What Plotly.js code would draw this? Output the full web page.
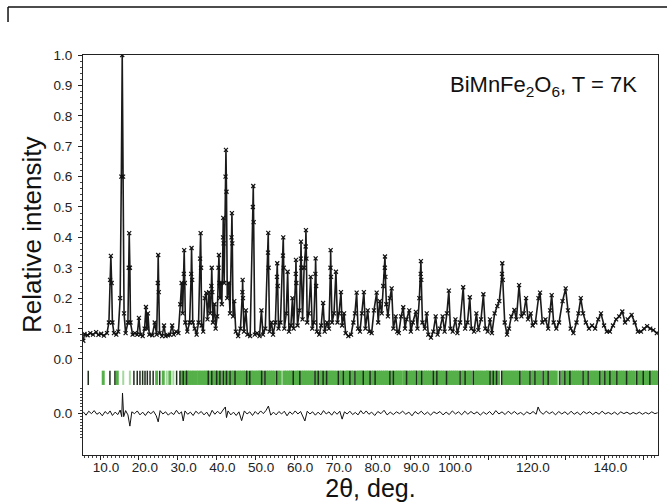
<!DOCTYPE html>
<html>
<head>
<meta charset="utf-8">
<script src="https://cdn.plot.ly/plotly-3.0.1.min.js"></script>
<style>
html,body{margin:0;padding:0;background:#fff;}
#chart{width:667px;height:502px;}
</style>
</head>
<body>
<div id="chart"></div>
<script>
var obsX = [5.7,6.0,6.8,7.5,8.2,9.0,9.6,10.3,11.0,11.8,12.3,12.6,12.8,13.0,13.2,13.6,14.2,14.7,15.2,15.5,15.73,15.95,16.2,16.6,17.2,17.4,17.53,17.7,17.85,18.4,19.0,19.6,20.03,20.4,21.0,21.5,21.84,22.1,22.35,22.7,23.5,24.1,24.6,24.9,25.0,25.15,25.35,26.0,26.5,26.9,27.5,28.0,28.6,29.0,29.6,30.2,30.7,31.04,31.3,31.6,31.7,31.85,32.0,32.5,33.1,33.5,33.6,33.75,33.9,34.4,34.9,35.4,35.8,35.93,36.05,36.2,36.6,37.0,37.4,37.7,38.1,38.4,38.7,38.8,38.95,39.1,39.5,39.8,40.2,40.55,40.65,40.8,40.9,41.2,41.4,41.7,41.76,41.85,42.0,42.35,42.46,42.6,42.8,43.2,43.5,43.9,44.0,44.1,44.3,44.6,45.0,45.6,46.2,46.7,46.76,46.85,47.1,47.6,48.0,48.7,49.4,49.5,49.6,49.9,50.5,51.1,51.6,52.0,52.6,53.3,53.36,53.45,53.7,54.2,54.6,55.2,55.6,55.68,55.8,56.0,56.5,57.15,57.23,57.35,57.5,58.0,58.36,58.7,59.2,59.6,59.9,60.45,60.5,60.6,60.9,61.4,61.75,61.8,61.9,62.2,62.6,63.0,63.07,63.2,63.4,63.8,64.3,64.7,65.1,65.5,65.57,65.7,65.9,66.5,67.0,67.5,67.9,68.5,69.0,69.4,69.44,69.55,69.8,70.3,70.8,71.2,71.6,72.1,72.4,72.9,73.3,74.0,74.7,75.3,75.7,76.14,76.5,77.0,77.5,78.0,78.4,79.0,79.4,80.0,80.6,81.3,81.7,82.1,82.6,83.0,83.4,83.44,83.55,83.8,84.2,84.7,85.16,85.6,86.2,86.6,87.0,87.6,88.15,88.6,89.0,89.7,90.1,90.6,91.4,91.8,92.3,92.65,92.7,92.8,93.1,93.7,94.2,94.6,95.3,95.9,96.5,97.0,97.6,98.3,98.8,99.4,99.9,100.3,100.9,101.6,102.1,102.8,103.6,104.1,104.7,105.3,105.7,106.4,107.0,107.5,108.2,108.8,109.3,109.9,110.5,111.0,111.7,112.4,112.9,113.6,113.67,113.8,114.3,114.9,115.4,116.0,116.8,117.3,118.0,118.6,119.2,119.8,120.3,121.0,121.5,122.2,123.0,123.4,124.0,124.8,125.5,126.0,126.4,126.9,127.6,128.3,129.2,130.0,130.6,131.3,132.0,132.8,133.3,133.9,134.5,135.2,136.0,136.8,137.6,138.4,139.1,139.9,140.6,141.4,142.2,143.0,143.8,144.6,145.3,146.0,147.0,147.8,148.6,149.4,150.2,151.0,151.8,152.6,153.5];
var obsY = [0.06,0.082,0.078,0.085,0.08,0.088,0.079,0.083,0.077,0.085,0.12,0.26,0.339,0.25,0.12,0.085,0.08,0.09,0.2,0.6,1.0,0.6,0.15,0.085,0.12,0.3,0.414,0.3,0.12,0.08,0.085,0.08,0.135,0.08,0.075,0.1,0.171,0.1,0.15,0.08,0.078,0.12,0.08,0.25,0.342,0.22,0.085,0.075,0.11,0.075,0.078,0.08,0.11,0.08,0.09,0.085,0.18,0.25,0.15,0.28,0.358,0.25,0.12,0.09,0.12,0.28,0.365,0.26,0.12,0.1,0.08,0.12,0.33,0.414,0.3,0.11,0.09,0.2,0.217,0.13,0.22,0.15,0.24,0.3,0.22,0.12,0.18,0.1,0.14,0.3,0.342,0.25,0.2,0.25,0.18,0.4,0.464,0.38,0.25,0.6,0.688,0.55,0.2,0.25,0.15,0.4,0.48,0.38,0.14,0.19,0.09,0.075,0.1,0.22,0.26,0.2,0.09,0.16,0.08,0.075,0.5,0.569,0.45,0.08,0.085,0.075,0.16,0.08,0.1,0.35,0.415,0.3,0.09,0.12,0.08,0.12,0.27,0.315,0.24,0.1,0.12,0.34,0.4,0.3,0.1,0.15,0.287,0.09,0.11,0.2,0.1,0.28,0.326,0.25,0.11,0.16,0.33,0.386,0.3,0.13,0.3,0.37,0.424,0.33,0.12,0.15,0.27,0.1,0.12,0.28,0.331,0.24,0.09,0.08,0.11,0.184,0.09,0.12,0.1,0.3,0.358,0.27,0.12,0.15,0.287,0.12,0.15,0.22,0.11,0.15,0.085,0.075,0.08,0.12,0.15,0.218,0.1,0.09,0.15,0.22,0.1,0.16,0.09,0.085,0.16,0.218,0.12,0.19,0.15,0.24,0.3,0.337,0.27,0.18,0.14,0.2,0.232,0.1,0.14,0.09,0.085,0.14,0.17,0.1,0.13,0.16,0.09,0.12,0.155,0.1,0.2,0.28,0.322,0.26,0.12,0.1,0.15,0.08,0.07,0.09,0.14,0.08,0.1,0.14,0.09,0.15,0.225,0.1,0.09,0.13,0.085,0.12,0.236,0.1,0.12,0.203,0.1,0.09,0.15,0.095,0.13,0.213,0.1,0.09,0.13,0.085,0.15,0.174,0.19,0.28,0.315,0.26,0.12,0.08,0.1,0.14,0.161,0.13,0.243,0.14,0.15,0.2,0.13,0.15,0.11,0.12,0.2,0.218,0.12,0.13,0.1,0.16,0.21,0.12,0.1,0.12,0.19,0.232,0.16,0.1,0.085,0.12,0.15,0.2,0.15,0.12,0.1,0.11,0.1,0.13,0.15,0.11,0.09,0.09,0.11,0.13,0.14,0.156,0.12,0.13,0.145,0.12,0.09,0.09,0.1,0.108,0.1,0.095,0.085];

// Difference curve (obs - calc), rows of ten
var diffX = [
  5.7,6.4,7.1,7.8,8.5,9.2,9.9,10.6,11.3,12.0,
  12.6,13.2,13.9,14.6,15.2,15.6,15.8,16.1,16.6,17.2,
  17.7,18.2,18.9,19.6,20.3,21.0,21.7,22.4,23.1,23.8,
  24.5,25.0,25.5,26.2,26.9,27.6,28.3,29.0,29.7,30.4,
  31.0,31.45,31.9,32.6,33.3,34.0,34.7,35.4,36.1,36.8,
  37.5,38.2,38.9,39.6,40.3,41.0,41.7,42.3,42.6,43.0,
  43.7,44.4,45.1,45.8,46.5,47.2,47.9,48.6,49.3,50.0,
  50.7,51.4,52.1,52.8,53.4,54.0,54.7,55.4,56.1,56.8,
  57.5,58.2,58.9,59.6,60.3,61.0,61.7,62.3,62.8,63.4,
  64.1,64.8,65.5,66.2,66.9,67.6,68.3,69.0,69.7,70.4,
  71.1,71.8,72.4,73.0,73.7,74.4,75.1,75.8,76.5,77.2,
  77.9,78.6,79.3,80.0,80.8,81.6,82.4,83.2,84.0,84.8,
  85.6,86.4,87.2,88.0,88.8,89.6,90.4,91.2,92.0,92.8,
  93.6,94.4,95.2,96.0,96.8,97.6,98.4,99.2,100.0,100.8,
  101.6,102.4,103.2,104.0,104.8,105.6,106.4,107.2,108.0,108.8,
  109.6,110.4,111.2,112.0,112.8,113.6,114.4,115.2,116.0,116.8,
  117.6,118.4,119.2,120.0,120.8,121.6,122.4,122.9,123.4,124.2,
  125.0,125.8,126.6,127.4,128.2,129.0,129.8,130.6,131.4,132.2,
  133.0,133.8,134.6,135.4,136.2,137.0,137.8,138.6,139.4,140.2,
  141.0,141.8,142.6,143.4,144.2,145.0,145.8,146.6,147.4,148.2,
  149.0,149.8,150.6,151.4,152.2,153.0,153.7
];
var diffY = [
  0.004,-0.007,0.006,-0.002,0.008,-0.004,0.002,-0.009,0.005,-0.003,
  0.007,-0.008,0.003,-0.005,0.010,-0.012,0.066,-0.012,0.008,-0.006,
  -0.043,0.004,-0.002,0.007,-0.006,0.003,-0.008,0.005,-0.002,0.006,
  -0.009,-0.029,0.008,-0.003,0.004,-0.007,0.002,-0.005,0.009,-0.003,
  0.004,-0.026,0.007,-0.004,0.003,-0.008,0.006,-0.002,0.005,-0.006,
  0.003,-0.011,0.009,-0.004,0.006,-0.003,0.010,0.020,-0.015,0.007,
  -0.006,0.003,-0.008,0.004,-0.025,0.007,-0.003,0.004,-0.008,0.005,
  -0.004,0.007,-0.002,0.009,0.023,-0.007,0.003,-0.006,0.005,-0.003,
  0.006,-0.009,0.004,-0.004,0.007,-0.003,0.005,-0.010,-0.026,0.006,
  -0.003,0.004,-0.007,0.003,-0.006,0.008,-0.003,0.004,-0.007,0.005,
  -0.004,0.006,-0.020,0.004,-0.003,0.006,-0.005,0.002,-0.006,0.008,
  -0.003,0.007,-0.004,0.003,-0.008,0.005,-0.002,0.009,-0.006,0.003,
  -0.005,0.004,-0.002,0.006,-0.004,0.003,-0.009,0.005,-0.003,0.006,
  -0.005,0.003,-0.007,0.004,-0.002,0.005,-0.006,0.003,-0.005,0.007,
  -0.003,0.004,-0.006,0.006,-0.004,0.005,-0.003,0.004,-0.007,0.003,
  -0.004,0.005,-0.006,0.008,-0.003,0.004,-0.005,0.006,-0.003,0.005,
  -0.004,0.002,-0.006,0.004,-0.003,0.005,-0.004,0.020,0.005,-0.004,
  0.006,-0.002,0.004,-0.006,0.005,-0.003,0.004,-0.005,0.006,-0.004,
  0.003,-0.006,0.005,-0.002,0.004,-0.005,0.003,-0.004,0.006,-0.003,
  0.002,-0.004,0.003,-0.005,0.004,-0.002,0.003,-0.004,0.002,-0.003,
  0.003,-0.004,0.002,-0.003,0.004,-0.002,0.001
];

// Bragg reflection positions
var braggLight = [15.99,17.7,27.2,28.9,35.1,44.2,57.0,87.9,128.0];
var braggGreen = [10.83,14.45,24.6,26.3,28.0,31.0,32.0,32.6,33.1,33.7,34.2,34.8,35.5,36.0,36.6,37.1,37.6,38.3,39.2,39.7,40.4,41.2,42.1,43.0,43.9,44.6,45.3,45.9,46.4,47.0,47.4,48.1,49.0,49.4,50.0,50.5,51.0,51.3,52.0,52.9,53.4,53.9,54.4,54.9,55.9,56.4,57.5,58.0,58.6,59.1,59.5,60.2,60.8,61.1,61.9,62.4,62.9,63.4,63.9,64.4,64.9,65.8,66.7,67.1,67.9,68.8,69.3,69.8,70.3,70.9,71.8,72.2,73.2,73.7,74.0,74.8,75.2,76.2,76.7,77.2,77.5,78.3,78.8,79.2,80.0,80.5,81.3,81.8,82.3,82.8,83.3,83.8,84.2,85.1,86.1,86.6,87.1,87.6,88.4,88.6,89.5,90.0,90.5,91.0,91.3,92.2,92.5,93.4,93.9,94.4,94.9,95.4,96.3,97.0,97.3,97.8,98.3,98.8,99.8,100.3,100.8,101.3,101.8,102.3,103.3,103.7,104.6,105.1,105.6,106.7,107.2,107.7,108.2,108.7,109.3,109.8,110.0,110.9,111.8,112.7,113.9,114.4,114.9,115.4,115.9,116.4,116.9,117.4,117.8,118.7,119.2,119.7,120.3,121.3,121.7,122.6,123.1,123.6,124.7,125.1,126.0,126.5,127.0,127.5,129.1,129.4,130.3,130.8,131.5,132.0,132.5,133.0,133.5,134.0,135.0,135.3,136.3,136.8,137.3,137.8,138.3,139.3,139.7,140.6,141.0,141.8,142.3,142.8,143.7,144.2,144.7,145.2,146.2,146.7,147.2,147.7,148.7,149.2,149.6,150.4,150.9,151.3,152.1,152.6,153.1,153.6];
var braggDark = [6.97,12.56,13.85,18.74,19.6,20.3,20.99,21.6,22.2,22.9,23.7,25.4,29.75,30.6,31.45,32.3,37.9,38.8,40.06,40.9,41.76,42.6,43.5,44.8,47.8,48.6,51.66,52.5,55.5,59.8,61.5,65.4,66.25,67.5,68.4,71.4,72.7,74.4,75.7,77.85,79.6,80.9,84.7,85.6,89.0,91.6,92.9,95.9,96.8,99.3,102.8,104.1,106.2,110.5,111.35,112.2,113.5,118.2,120.8,122.1,124.2,125.5,128.5,129.8,131.1,134.5,135.8,138.8,140.1,141.4,143.2,145.7,148.3,150.0,151.7];

var yTickVals = [-0.178,0,0.1,0.2,0.3,0.4,0.5,0.6,0.7,0.8,0.9,1.0];
var yTickText = ["0.0","0.0","0.1","0.2","0.3","0.4","0.5","0.6","0.7","0.8","0.9","1.0"];
var xLabelVals = [10,20,30,40,50,60,70,80,90,100,120,140];
var xLabelText = ["10.0","20.0","30.0","40.0","50.0","60.0","70.0","80.0","90.0","100.0","120.0","140.0"];

var DIFF_OFFSET = -0.178;
var TICK_LO = -0.0855, TICK_HI = -0.0385;
var XR = [5.62,153.8];

function segs(pos){
  var xs=[], ys=[];
  pos.forEach(function(p){ xs.push(p,p,null); ys.push(TICK_LO,TICK_HI,null); });
  return {x:xs,y:ys};
}
var gL = segs(braggLight), gG = segs(braggGreen), gD = segs(braggDark);

var traces = [
  {x:gL.x, y:gL.y, type:'scatter', mode:'lines', line:{color:'#a3d99c', width:2}, hoverinfo:'skip', showlegend:false},
  {x:gG.x, y:gG.y, type:'scatter', mode:'lines', line:{color:'#56b04a', width:3}, hoverinfo:'skip', showlegend:false},
  {x:gD.x, y:gD.y, type:'scatter', mode:'lines', line:{color:'#1f2d1d', width:1.5}, hoverinfo:'skip', showlegend:false},
  {x:obsX, y:obsY, type:'scatter', mode:'lines+markers', line:{color:'#1a1a1a', width:1.6},
   marker:{symbol:'x-thin-open', size:4, color:'#111', line:{width:1.2, color:'#111'}}, showlegend:false},
  {x:diffX, y:diffY.map(function(v){return v+DIFF_OFFSET;}), type:'scatter', mode:'lines',
   xaxis:'x2', line:{color:'#111', width:1}, showlegend:false}
];

var minorY = [];
for (var i=0;i<=50;i++){ minorY.push(+(i*0.02).toFixed(3)); }
for (var j=-8;j<=8;j++){ minorY.push(+(DIFF_OFFSET + j*0.01).toFixed(3)); }

var layout = {
  width:667, height:502,
  margin:{l:83, r:9, t:55, b:47},
  paper_bgcolor:'#fff', plot_bgcolor:'#fff',
  font:{family:'Liberation Sans, Arial, sans-serif', color:'#222'},
  xaxis:{
    range:XR, showgrid:false, zeroline:false,
    showline:true, linecolor:'#222', linewidth:1, mirror:true,
    tickmode:'array', tickvals:xLabelVals, ticktext:xLabelText,
    ticks:'', ticklen:0, ticklabelshift:6,
    minor:{tickmode:'linear', tick0:0, dtick:1, ticks:'outside', ticklen:2, tickcolor:'#444', showgrid:false},
    tickfont:{size:13.5, color:'#222'},
    title:{text:'2\u03b8, deg.', font:{size:25, color:'#111'}, standoff:2}
  },
  xaxis2:{
    range:XR, overlaying:'x', anchor:'y', side:'bottom', showgrid:false, zeroline:false,
    showline:false, showticklabels:false,
    tickmode:'linear', tick0:10, dtick:10, ticks:'outside', ticklen:4, tickcolor:'#222', tickwidth:1
  },
  yaxis:{
    range:[-0.316,1.0], showgrid:false, zeroline:false,
    showline:true, linecolor:'#222', linewidth:1, mirror:true,
    tickmode:'array', tickvals:yTickVals, ticktext:yTickText,
    ticks:'outside', ticklen:4, tickcolor:'#222', tickwidth:1, ticklabelstandoff:3,
    minor:{tickmode:'array', tickvals:minorY, ticks:'outside', ticklen:2, tickcolor:'#444', showgrid:false},
    tickfont:{size:13.5, color:'#222'}
  },
  annotations:[{
    xref:'paper', yref:'paper', x:0.967, y:0.9225, xanchor:'right', yanchor:'middle',
    text:'BiMnFe<sub>2</sub>O<sub>6</sub>, T = 7K', showarrow:false,
    font:{size:22, color:'#111'}
  },{
    xref:'paper', yref:'paper', x:-0.0887, y:0.5525, xanchor:'center', yanchor:'middle',
    text:'Relative intensity', textangle:-90, showarrow:false,
    font:{size:26, color:'#111'}
  }],
  shapes:[
    {type:'line', xref:'paper', yref:'paper', x0:-0.1304, x1:1.0157, y0:1.12, y1:1.12, line:{color:'#111', width:1.5}},
    {type:'line', xref:'paper', yref:'paper', x0:-0.1304, x1:-0.1304, y0:1.12, y1:1.0825, line:{color:'#111', width:1.5}}
  ]
};

Plotly.newPlot('chart', traces, layout, {staticPlot:true, displayModeBar:false});
</script>
</body>
</html>
